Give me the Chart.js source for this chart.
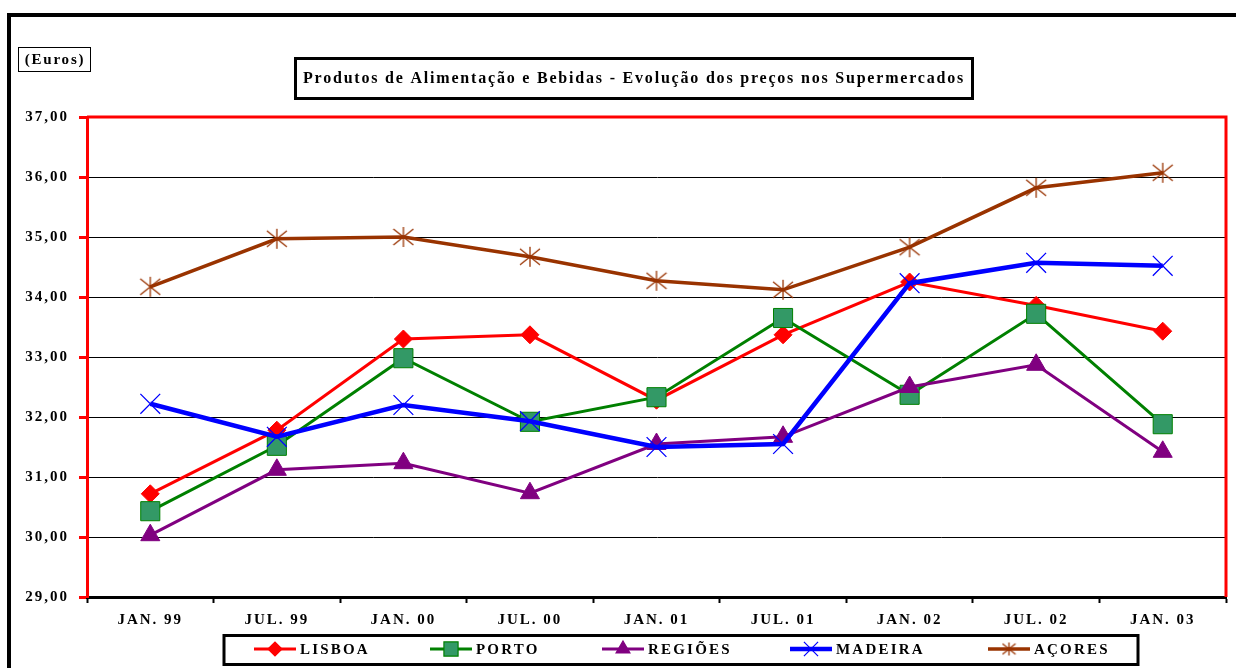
<!DOCTYPE html>
<html>
<head>
<meta charset="utf-8">
<script src="https://cdn.jsdelivr.net/npm/chart.js@4.4.0/dist/chart.umd.min.js"></script>
<style>
  html, body { margin: 0; padding: 0; background: #fff; }
</style>
</head>
<body>
<canvas id="myChart" width="1236" height="668"></canvas>
<script>
const labels = ["JAN. 99", "JUL. 99", "JAN. 00", "JUL. 00", "JAN. 01", "JUL. 01", "JAN. 02", "JUL. 02", "JAN. 03"];
const lisboa = [30.72, 31.78, 33.30, 33.37, 32.28, 33.37, 34.25, 33.86, 33.43];
const porto = [30.43, 31.52, 32.98, 31.92, 32.33, 33.65, 32.37, 33.72, 31.88];
const regioes = [30.03, 31.12, 31.23, 30.73, 31.55, 31.67, 32.50, 32.87, 31.42];
const madeira = [32.22, 31.67, 32.20, 31.93, 31.50, 31.55, 34.23, 34.57, 34.52];
const acores = [34.17, 34.97, 35.00, 34.67, 34.27, 34.12, 34.83, 35.82, 36.07];
const seriesNames = ["LISBOA", "PORTO", "REGIÕES", "MADEIRA", "AÇORES"];

const serif = '"Liberation Serif", "Times New Roman", serif';

// asterisk marker (X plus vertical bar), like the old spreadsheet star
const makeStar = function (size, color) {
  const c = document.createElement("canvas");
  c.width = size;
  c.height = size;
  const g = c.getContext("2d");
  const m = size / 2;
  const r = size / 2 - 1;
  g.strokeStyle = color;
  g.lineWidth = 1.3;
  g.beginPath();
  g.moveTo(m - r, m - r * 0.8);
  g.lineTo(m + r, m + r * 0.8);
  g.moveTo(m + r, m - r * 0.8);
  g.lineTo(m - r, m + r * 0.8);
  g.moveTo(m, m - r);
  g.lineTo(m, m + r);
  g.stroke();
  return c;
};
const starBig = makeStar(22, "#993300");
const starSmall = makeStar(15, "#993300");

const styles = [
  { color: "#ff0000", fill: "#ff0000", width: 3, point: "rectRot", radius: 9, legendRadius: 7 },
  { color: "#008000", fill: "#339966", width: 3, point: "rect", radius: 13.5, legendRadius: 10 },
  { color: "#800080", fill: "#800080", width: 3, point: "triangle", radius: 11, legendRadius: 8 },
  { color: "#0000ff", fill: "#0000ff", width: 4.5, point: "crossRot", radius: 14, legendRadius: 10 },
  { color: "#993300", fill: "#993300", width: 3.5, point: starBig, radius: 11, legendRadius: 7 },
];

const boxesPlugin = {
  id: "boxes",
  beforeDraw(chart) {
    chart.ctx.letterSpacing = "2px";
  },
  afterDatasetsDraw(chart) {
    const ctx = chart.ctx;
    const a = chart.chartArea;
    ctx.save();
    ctx.strokeStyle = "#ff0000";
    ctx.lineWidth = 3;
    ctx.beginPath();
    ctx.moveTo(a.left, a.top);
    ctx.lineTo(a.right, a.top);
    ctx.lineTo(a.right, a.bottom);
    ctx.stroke();
    ctx.restore();
  },
  afterDraw(chart) {
    const ctx = chart.ctx;
    ctx.save();
    // outer frame
    ctx.strokeStyle = "#000";
    ctx.lineWidth = 4;
    ctx.beginPath();
    ctx.moveTo(9, 700);
    ctx.lineTo(9, 15);
    ctx.lineTo(1300, 15);
    ctx.stroke();

    // (Euros)
    ctx.lineWidth = 1;
    ctx.strokeRect(18.5, 47.5, 72, 24);
    ctx.fillStyle = "#000";
    ctx.font = "bold 15px " + serif;
    ctx.letterSpacing = "1.8px";
    ctx.textAlign = "center";
    ctx.textBaseline = "middle";
    ctx.fillText("(Euros)", 55, 60);

    // title box
    ctx.lineWidth = 3;
    ctx.strokeRect(295.5, 58.5, 677, 40);
    ctx.font = "bold 16px " + serif;
    ctx.letterSpacing = "1.8px";
    ctx.fillText("Produtos de Alimentação e Bebidas - Evolução dos preços nos Supermercados", 634, 79);

    // legend
    ctx.lineWidth = 3;
    ctx.strokeRect(224, 635.5, 914, 29);
    const xs = [254, 430, 602, 790, 988];
    const ly = 649;
    ctx.font = "bold 15px " + serif;
    ctx.letterSpacing = "2.2px";
    ctx.textAlign = "left";
    for (let i = 0; i < seriesNames.length; i++) {
      const s = styles[i];
      ctx.strokeStyle = s.color;
      ctx.lineWidth = s.width;
      ctx.beginPath();
      ctx.moveTo(xs[i], ly);
      ctx.lineTo(xs[i] + 42, ly);
      ctx.stroke();
      ctx.fillStyle = s.fill;
      ctx.strokeStyle = i === 1 ? "#008000" : s.color;
      ctx.lineWidth = 1.2;
      Chart.helpers.drawPoint(ctx, {
        pointStyle: i === 4 ? starSmall : s.point,
        radius: s.legendRadius,
        rotation: 0,
        borderWidth: 1.2,
      }, xs[i] + 21, ly);
      ctx.fillStyle = "#000";
      ctx.fillText(seriesNames[i], xs[i] + 46, ly + 1);
    }
    ctx.restore();
  },
};

const seriesData = [lisboa, porto, regioes, madeira, acores];
const datasets = seriesData.map(function (data, i) {
  const s = styles[i];
  return {
    label: seriesNames[i],
    data: data,
    borderColor: s.color,
    borderWidth: s.width,
    backgroundColor: s.fill,
    pointStyle: s.point,
    pointRadius: s.radius,
    pointHoverRadius: s.radius,
    pointBackgroundColor: s.fill,
    pointBorderColor: i === 1 ? "#008000" : s.color,
    pointBorderWidth: i === 3 || i === 4 ? 1.3 : 1,
    fill: false,
    tension: 0,
    order: 5 - i,
  };
});

const config = {
  type: "line",
  data: { labels: labels, datasets: datasets },
  options: {
    responsive: false,
    animation: false,
    layout: {
      autoPadding: false,
      padding: { left: 0, top: 117, right: 10, bottom: 0 },
    },
    plugins: {
      legend: { display: false },
      title: { display: false },
      tooltip: { enabled: false },
    },
    scales: {
      x: {
        offset: true,
        grid: {
          offset: true,
          drawOnChartArea: false,
          tickColor: "#000",
          tickLength: 6,
          tickWidth: 2,
        },
        border: { color: "#000", width: 3 },
        ticks: {
          color: "#000",
          padding: 8,
          maxRotation: 0,
          autoSkip: false,
          font: { family: serif, size: 15, weight: "bold" },
        },
        afterFit: function (s) { s.height = 71; },
      },
      y: {
        min: 29,
        max: 37,
        ticks: {
          stepSize: 1,
          color: "#000",
          padding: 10,
          font: { family: serif, size: 15, weight: "bold" },
          callback: function (v) { return v.toFixed(2).replace(".", ","); },
        },
        grid: {
          color: "#000",
          lineWidth: 1,
          tickColor: "#ff0000",
          tickLength: 8,
          tickWidth: 3,
        },
        border: { color: "#ff0000", width: 3 },
        afterFit: function (s) { s.width = 87; },
      },
    },
  },
  plugins: [boxesPlugin],
};

const ctx = document.getElementById("myChart");
const priceChart = new Chart(ctx, config);
</script>
</body>
</html>
